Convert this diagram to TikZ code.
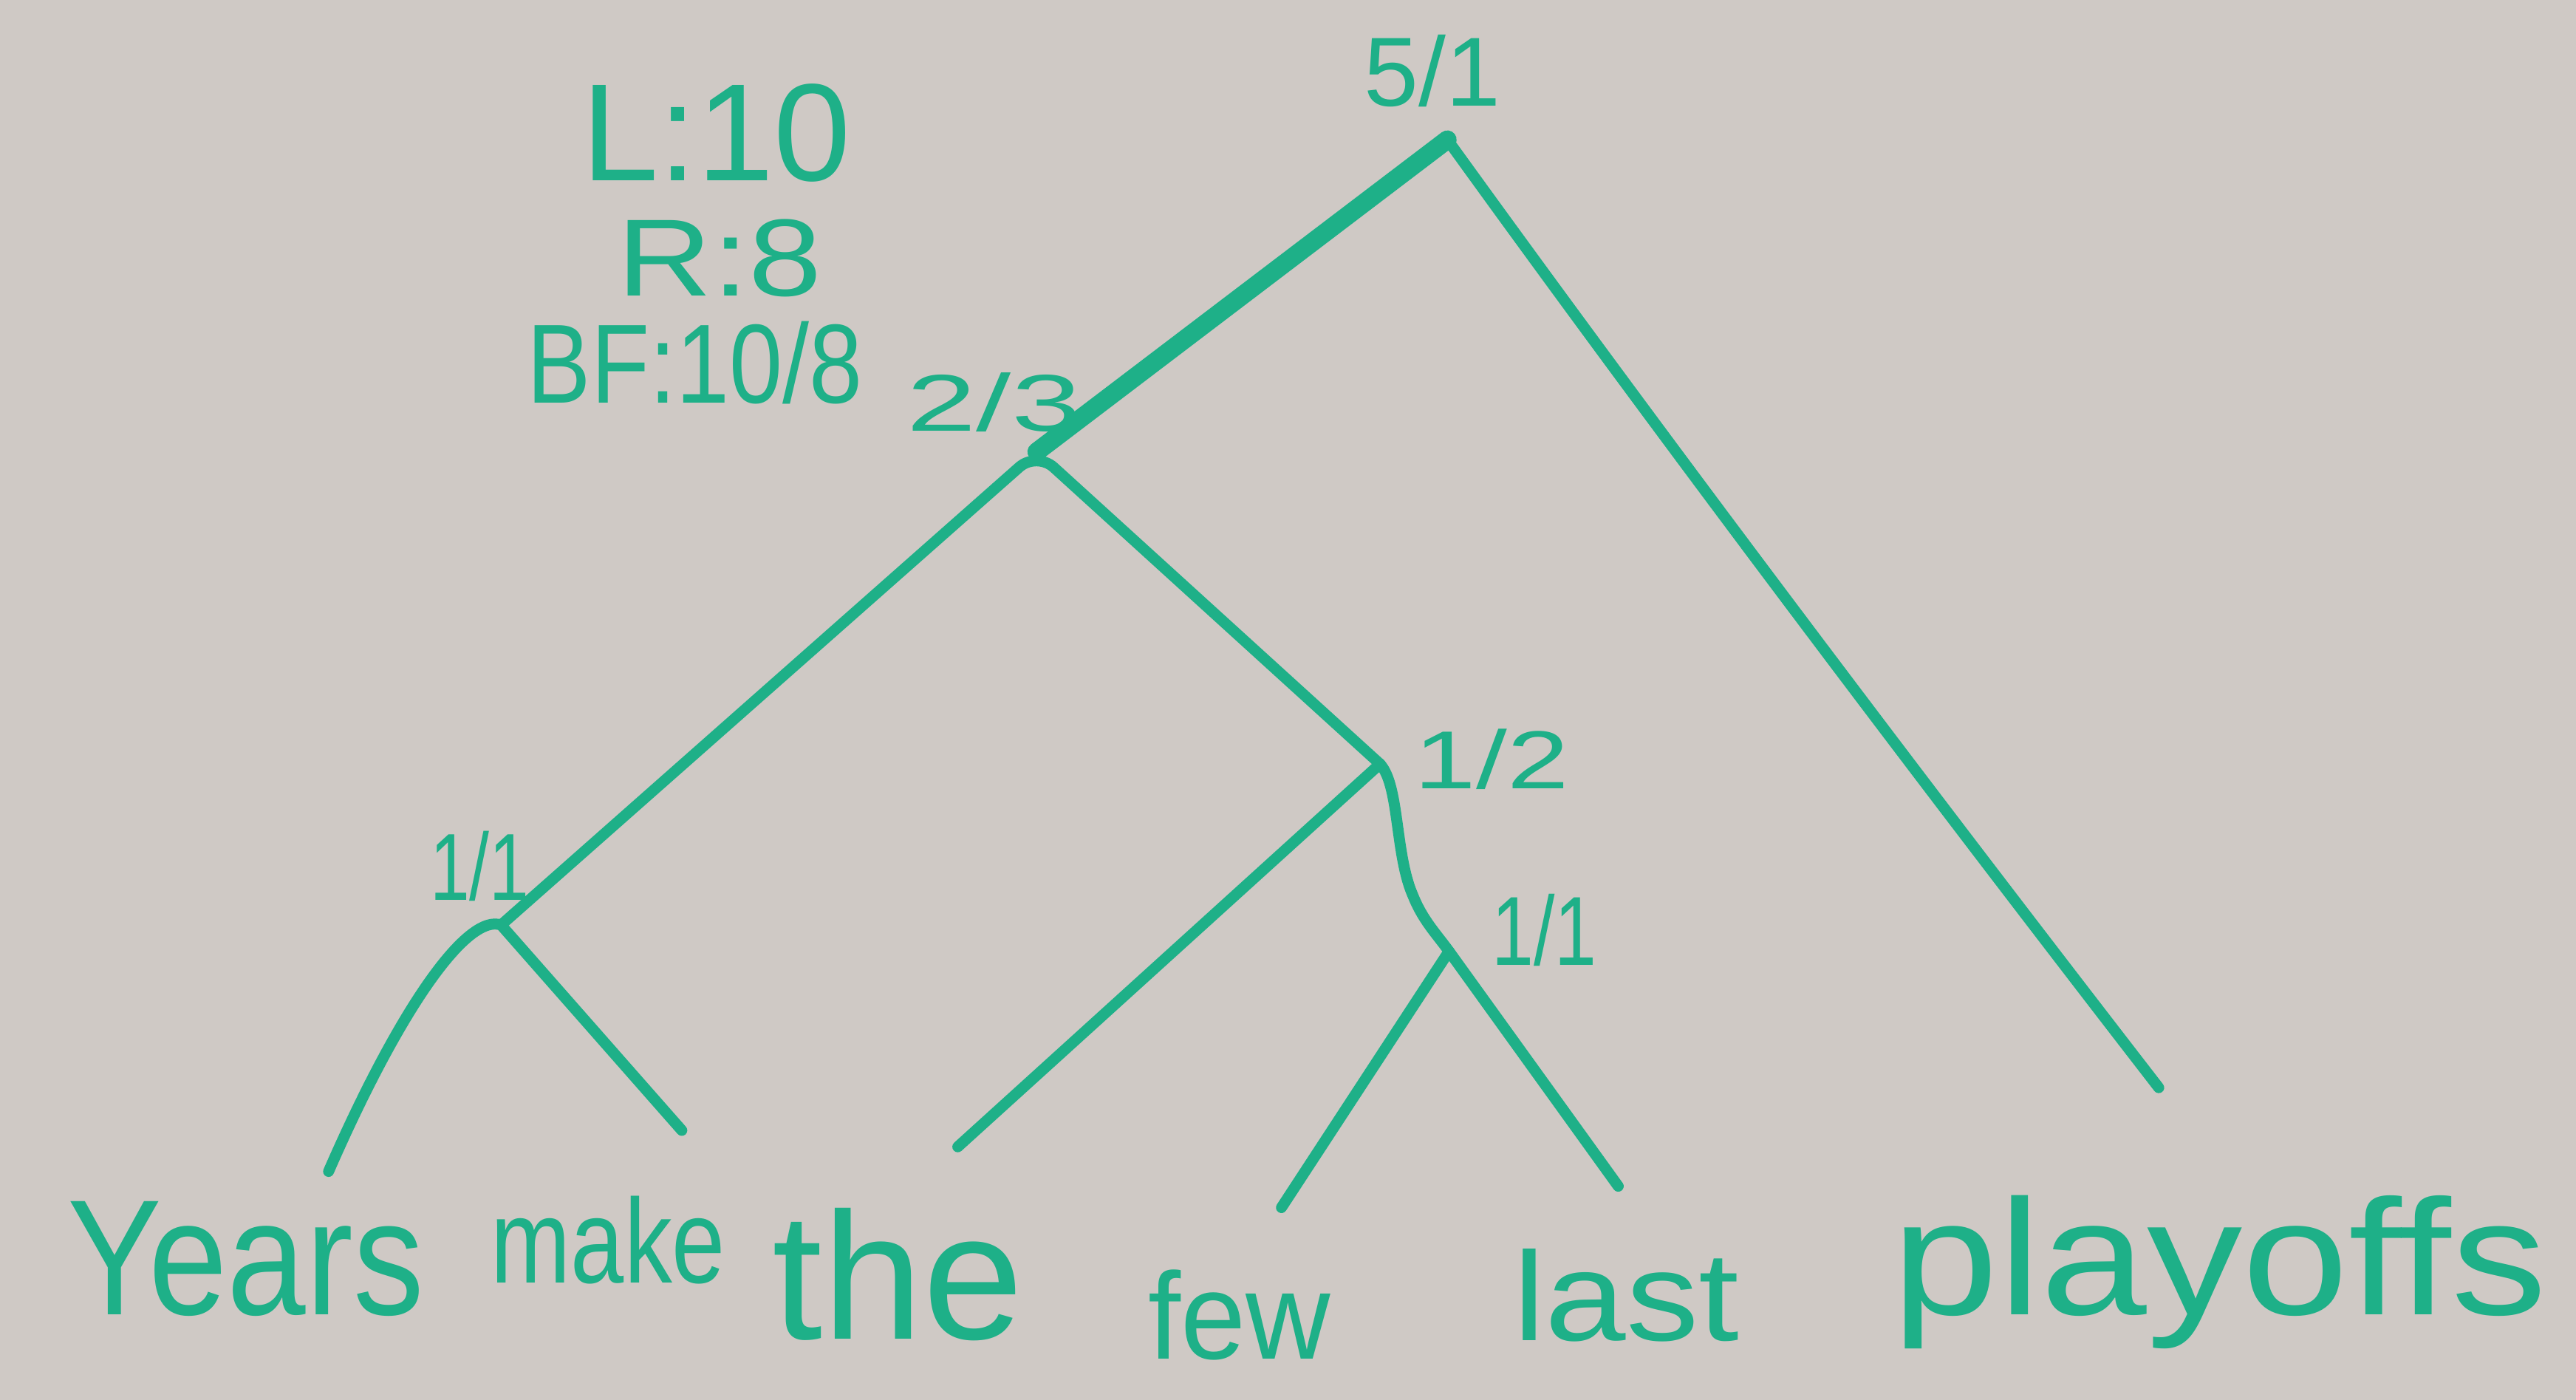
\documentclass[tikz,border=0pt]{standalone}
\usepackage{fontspec}
\setmainfont{Liberation Sans}
\definecolor{board}{RGB}{207,201,197}
\definecolor{marker}{RGB}{30,176,136}
\begin{document}
\begin{tikzpicture}[x=0.02cm,y=-0.02cm,
  edge/.style={draw=marker,line width=3.8pt,line cap=round,line join=round},
  thickedge/.style={edge,line width=6.4pt},
  lbl/.style={text=marker,inner sep=0pt,outer sep=0pt},
  leaf/.style={lbl,anchor=base west}]
\fill[board] (0,0) rectangle (1568,852);
\useasboundingbox (0,0) rectangle (1568,852);

% legend
\node[lbl] (lten) at (436,81) {\fontsize{48}{50}\selectfont\scalebox{1.0}[1]{L:10}};
\node[lbl] (reight) at (438,157) {\fontsize{38}{40}\selectfont\scalebox{1.2}[1]{R:8}};
\node[lbl] (bf) at (423,221) {\fontsize{39}{42}\selectfont\scalebox{0.85}[1]{BF:10/8}};

% node labels
\node[lbl] (l51) at (872,43) {\fontsize{34}{38}\selectfont 5/1};
\node[lbl] (l23) at (605,245) {\fontsize{31}{35}\selectfont\scalebox{1.4}[0.9]{2/3}};
\node[lbl] (l12) at (908,462) {\fontsize{28.5}{32}\selectfont\scalebox{1.35}[1]{1/2}};
\node[lbl] (l11a) at (292,527) {\fontsize{33}{37}\selectfont\scalebox{0.75}[1]{1/1}};
\node[lbl] (l11b) at (940,566) {\fontsize{34}{38}\selectfont\scalebox{0.77}[1]{1/1}};

% leaves
\node[leaf] (years) at (41,800) {\fontsize{57}{60}\selectfont\scalebox{0.86}[1]{Years}};
\node[leaf] (make) at (299,781) {\fontsize{41.5}{45}\selectfont\scalebox{0.8}[1]{make}};
\node[leaf] (the) at (470,815) {\fontsize{62.6}{66}\selectfont the};
\node[leaf] (few) at (699,827) {\fontsize{42.7}{46}\selectfont\scalebox{0.95}[1]{few}};
\node[leaf] (last) at (921,816) {\fontsize{43.8}{47}\selectfont\scalebox{1.15}[1]{last}};
\node[leaf] (playoffs) at (1152,800) {\fontsize{57}{60}\selectfont\scalebox{1.16}[1]{playoffs}};

% junctions and branch ends
\coordinate (root) at (881,85);
\coordinate (n23) at (631,275);
\coordinate (n11a) at (305,563);
\coordinate (n12) at (840,465);
\coordinate (n11b) at (882,579);
\coordinate (eYears) at (200,713);
\coordinate (eMake) at (415,688);
\coordinate (eThe) at (583,698);
\coordinate (eFew) at (780,735);
\coordinate (eLast) at (985,722);
\coordinate (ePlay) at (1314,662);

% edges
\draw[thickedge] (root) -- (n23);
\draw[edge] (root) .. controls (1000,250) and (1150,450) .. (ePlay);
\draw[edge,rounded corners=8pt] (n11a) -- (n23) -- (n12);
\draw[edge] (eYears) .. controls (245,610) and (285,556) .. (n11a) -- (eMake);
\draw[edge] (eThe) -- (n12);
\draw[edge] (n12) .. controls (852,478) and (849,520) .. (860,545) .. controls (866,560) and (874,568) .. (n11b) -- (eLast);
\draw[edge] (n11b) -- (eFew);
\end{tikzpicture}
\end{document}
